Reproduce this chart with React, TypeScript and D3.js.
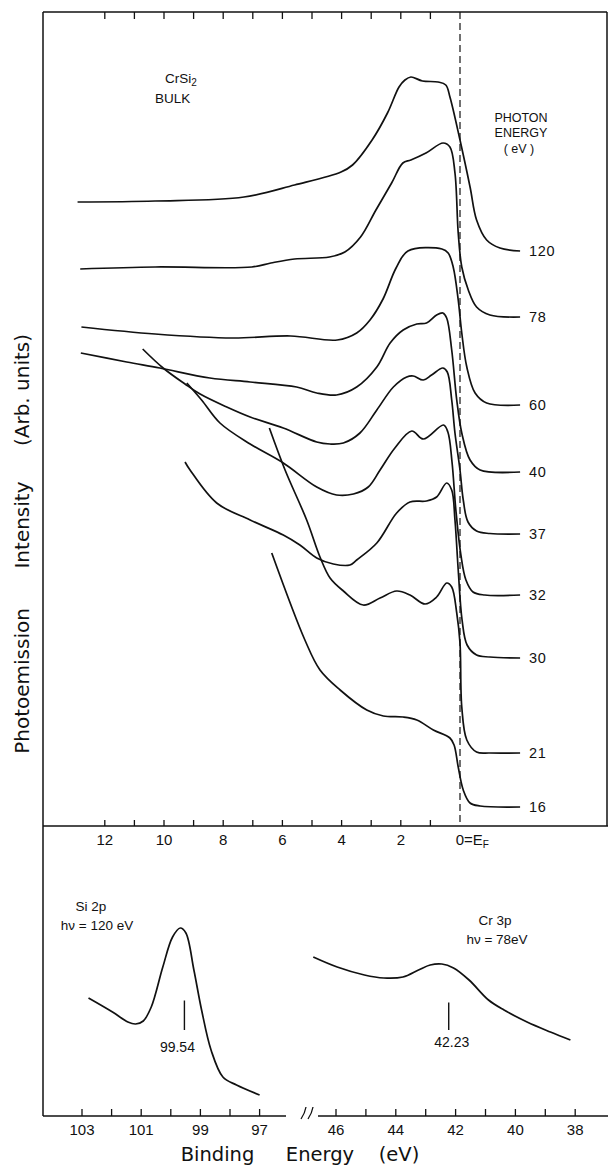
import React from "react";
import * as d3 from "d3";

type Pt = [number, number];

// valence band spectra, [binding energy (eV), intensity (arb.)]
const photonLabels = ["120", "78", "60", "40", "37", "32", "30", "21", "16"];

const edc120: Pt[] = [
  [12.92, 62.4], [10.3, 62.5], [7.3, 62.9], [5.59, 64.1], [4.02, 65.4], [3.63, 66.1],
  [2.97, 68.6], [2.45, 71.3], [2.06, 73.9], [1.86, 74.6], [1.66, 74.9], [1.27, 74.5], [0.74, 74.4],
  [0.48, 74.1], [0.34, 72.9], [0.0, 68.6], [-0.34, 63.9], [-0.56, 60.6], [-0.9, 58.6],
  [-1.35, 57.8], [-2.03, 57.5],
];
const edc78: Pt[] = [
  [12.83, 55.7], [10.3, 55.9], [7.03, 55.9], [6.39, 56.3], [5.59, 56.7], [4.41, 56.9],
  [3.89, 57.4], [3.36, 58.9], [2.84, 61.6], [2.31, 64.3], [1.93, 66.3], [1.66, 66.6],
  [1.15, 67.3], [0.57, 68.3], [0.34, 67.9], [0.17, 65.3], [0.06, 59.3], [-0.06, 55.9],
  [-0.28, 53.6], [-0.56, 51.9], [-1.01, 51.1], [-2.03, 50.9],
];
const edc60: Pt[] = [
  [12.79, 49.9], [10.3, 49.2], [7.68, 48.8], [5.72, 49.0], [4.15, 48.6], [3.49, 49.3],
  [3.04, 50.6], [2.6, 52.7], [2.16, 55.8], [1.76, 57.5], [0.61, 57.7], [0.4, 57.3],
  [0.23, 55.9], [0.06, 52.6], [-0.06, 49.3], [-0.23, 45.9], [-0.51, 43.3], [-0.9, 42.3],
  [-2.03, 42.1],
];
const edc40: Pt[] = [
  [12.81, 47.3], [11.26, 46.4], [10.14, 45.8], [8.45, 44.8], [7.09, 44.4], [5.52, 43.9],
  [4.84, 43.3], [4.17, 43.1], [3.49, 43.9], [2.81, 45.9], [2.36, 48.3], [1.92, 49.6],
  [1.46, 50.2], [1.13, 50.3], [0.79, 51.1], [0.58, 51.3], [0.45, 50.8], [0.28, 47.6],
  [0.11, 42.6], [-0.06, 39.3], [-0.34, 36.6], [-0.68, 35.6], [-2.03, 35.4],
];
const edc37: Pt[] = [
  [10.72, 47.7], [10.03, 45.8], [9.29, 44.2], [8.78, 43.2], [7.88, 41.9], [7.09, 40.9],
  [5.97, 39.8], [4.84, 38.4], [4.39, 38.2], [3.94, 38.3], [3.38, 39.3], [2.81, 41.6],
  [2.25, 43.9], [1.8, 44.9], [1.58, 45.0], [1.24, 44.6], [0.96, 45.1], [0.58, 45.8],
  [0.43, 45.4], [0.28, 42.6], [0.17, 39.3], [0.0, 35.6], [-0.11, 32.6], [-0.27, 30.4],
  [-0.56, 29.5], [-1.01, 29.25], [-2.03, 29.2],
];
const edc32: Pt[] = [
  [9.23, 44.3], [8.73, 42.6], [8.11, 40.3], [7.09, 38.2], [5.97, 36.3], [4.84, 33.9],
  [4.17, 33.1], [3.6, 33.2], [3.1, 33.9], [2.7, 35.6], [2.2, 37.8], [1.63, 39.5],
  [1.24, 38.7], [0.56, 40.1], [0.41, 39.4], [0.27, 36.4], [0.14, 31.6], [-0.03, 27.1],
  [-0.2, 24.6], [-0.44, 23.4], [-0.84, 23.1], [-2.03, 23.1],
];
const edc30: Pt[] = [
  [9.29, 36.4], [9.12, 35.6], [8.22, 32.3], [7.09, 30.6], [5.97, 29.1], [5.41, 28.1],
  [4.84, 26.8], [4.28, 26.2], [3.72, 26.1], [3.49, 26.6], [2.81, 28.3], [2.14, 31.3],
  [1.69, 32.4], [1.13, 32.5], [0.79, 32.9], [0.45, 34.3], [0.28, 33.6], [0.17, 30.6],
  [0.06, 25.6], [-0.07, 20.6], [-0.24, 18.1], [-0.56, 17.1], [-1.01, 16.9], [-2.03, 16.8],
];
const edc21: Pt[] = [
  [6.44, 39.8], [5.91, 35.6], [5.18, 30.6], [4.73, 26.9], [4.39, 24.8], [3.94, 23.5],
  [3.27, 22.1], [2.7, 22.8], [2.14, 23.5], [1.69, 23.1], [1.18, 22.2], [0.79, 22.9],
  [0.45, 24.3], [0.28, 23.9], [0.11, 21.3], [0.0, 18.3], [-0.06, 11.9], [-0.23, 8.6],
  [-0.56, 7.4], [-1.01, 7.3], [-2.03, 7.3],
];
const edc16: Pt[] = [
  [6.36, 27.3], [5.24, 18.6], [4.73, 15.6], [4.05, 13.6], [3.15, 11.6], [2.59, 11.0],
  [1.92, 10.9], [1.46, 10.6], [0.9, 9.6], [0.34, 8.8], [0.2, 8.1], [0.06, 5.9],
  [-0.11, 3.6], [-0.34, 2.3], [-0.68, 2.0], [-2.03, 1.9],
];
const edcCurves = [edc120, edc78, edc60, edc40, edc37, edc32, edc30, edc21, edc16];

// core levels
const si2p: Pt[] = [
  [102.78, 11.8], [101.97, 10.4], [101.45, 9.4], [101.19, 9.2], [100.93, 9.5], [100.66, 10.9],
  [100.27, 14.9], [99.94, 17.9], [99.68, 18.8], [99.49, 18.3], [99.22, 14.6], [98.96, 10.6],
  [98.64, 6.6], [98.24, 3.9], [97.78, 3.1], [97.0, 2.1],
];
const cr3p: Pt[] = [
  [46.76, 15.9], [45.96, 14.9], [45.05, 14.1], [44.4, 13.8], [43.76, 13.9], [43.24, 14.6],
  [42.85, 15.1], [42.46, 15.2], [42.07, 14.8], [41.55, 13.6], [40.9, 11.6], [40.38, 10.6],
  [39.61, 9.4], [38.83, 8.4], [38.16, 7.6],
];
const siPeak = 99.54;
const crPeak = 42.23;

const vbTicks = [12, 11, 10, 9, 8, 7, 6, 5, 4, 3, 2, 1];
const vbTickLabels = [12, 10, 8, 6, 4, 2];
const siTicks = [103, 102, 101, 100, 99, 98, 97];
const siTickLabels = [103, 101, 99, 97];
const crTicks = [46, 45, 44, 43, 42, 41, 40, 39, 38];
const crTickLabels = [46, 44, 42, 40, 38];

const W = 608;
const H = 1168;
const L = 43;
const R = 607;
const T = 12;
const MID = 826;
const BOT = 1116;

const sans = "'Liberation Sans', Arial, sans-serif";
const wide = "'DejaVu Sans', Verdana, sans-serif";

export default function App() {
  const x = d3.scaleLinear().domain([12, 0]).range([104.8, 460]);
  const y = d3.scaleLinear().domain([0, 81.4]).range([MID, T]);
  const xSi = d3.scaleLinear().domain([103, 97]).range([82, 259.6]);
  const xCr = d3.scaleLinear().domain([46, 38]).range([336, 575.2]);
  const yB = d3.scaleLinear().domain([0, 29]).range([BOT, MID]);

  const smooth = d3.curveCatmullRom.alpha(0.5);
  const vbLine = d3.line<Pt>().x((d) => x(d[0])).y((d) => y(d[1])).curve(smooth);
  const siLine = d3.line<Pt>().x((d) => xSi(d[0])).y((d) => yB(d[1])).curve(smooth);
  const crLine = d3.line<Pt>().x((d) => xCr(d[0])).y((d) => yB(d[1])).curve(smooth);

  const stroke = "#111";

  return (
    <svg width={W} height={H} style={{ position: "absolute", left: 0, top: 0, background: "#fff" }}>
      {/* frame */}
      <g stroke={stroke} strokeWidth={1.5} fill="none">
        <line x1={L} y1={T} x2={L} y2={BOT} />
        <line x1={L} y1={T} x2={R} y2={T} />
        <line x1={R} y1={T} x2={R} y2={MID} />
        <line x1={L} y1={MID} x2={W} y2={MID} />
        <line x1={L} y1={BOT} x2={286} y2={BOT} />
        <line x1={318} y1={BOT} x2={W} y2={BOT} />
        {/* axis break */}
        <path d="M301,1119 Q305,1113 306,1107" strokeWidth={1.3} />
        <path d="M308,1119 Q312,1113 313,1107" strokeWidth={1.3} />
      </g>

      {/* ticks */}
      <g stroke={stroke} strokeWidth={1.3}>
        {vbTicks.map((t) => (
          <g key={t}>
            <line x1={x(t)} x2={x(t)} y1={T} y2={T + 7} />
            <line x1={x(t)} x2={x(t)} y1={MID} y2={MID - 6} />
          </g>
        ))}
        {siTicks.map((t) => (
          <line key={"s" + t} x1={xSi(t)} x2={xSi(t)} y1={BOT} y2={BOT - 7} />
        ))}
        {crTicks.map((t) => (
          <line key={"c" + t} x1={xCr(t)} x2={xCr(t)} y1={BOT} y2={BOT - 7} />
        ))}
      </g>

      {/* Fermi level */}
      <line x1={x(0)} x2={x(0)} y1={T} y2={MID} stroke={stroke} strokeWidth={1.2} strokeDasharray="7 4" />

      {/* spectra */}
      <g fill="none" stroke={stroke} strokeWidth={1.7} strokeLinejoin="round">
        {edcCurves.map((c, i) => (
          <path key={i} d={vbLine(c) || ""} />
        ))}
        <path d={siLine(si2p) || ""} />
        <path d={crLine(cr3p) || ""} />
      </g>

      {/* peak markers */}
      <g stroke={stroke} strokeWidth={1.4}>
        <line x1={xSi(siPeak)} x2={xSi(siPeak)} y1={1000.5} y2={1030} />
        <line x1={xCr(crPeak)} x2={xCr(crPeak)} y1={1002.5} y2={1030} />
      </g>

      <g fontFamily={sans} fill={stroke}>
        {/* photon energy labels */}
        {edcCurves.map((c, i) => {
          const last = c[c.length - 1];
          return (
            <text key={i} x={x(last[0]) + 9} y={y(last[1])} dy="0.35em" fontSize={14.5} letterSpacing={0.6}>
              {photonLabels[i]}
            </text>
          );
        })}

        {/* tick labels */}
        {vbTickLabels.map((t) => (
          <text key={t} x={x(t)} y={845} fontSize={15} textAnchor="middle">
            {t}
          </text>
        ))}
        <text x={x(0) - 4.3} y={845} fontSize={15}>
          0=E<tspan fontSize={10} dy={3}>F</tspan>
        </text>
        {siTickLabels.map((t) => (
          <text key={"s" + t} x={xSi(t)} y={1135} fontSize={15} textAnchor="middle">
            {t}
          </text>
        ))}
        {crTickLabels.map((t) => (
          <text key={"c" + t} x={xCr(t)} y={1135} fontSize={15} textAnchor="middle">
            {t}
          </text>
        ))}

        {/* annotations */}
        <text x={165} y={83} fontSize={13.5}>
          CrSi<tspan fontSize={10} dy={3}>2</tspan>
        </text>
        <text x={155} y={103} fontSize={13.5}>BULK</text>
        <text x={521} y={121.5} fontSize={12.5} textAnchor="middle">PHOTON</text>
        <text x={521} y={136.5} fontSize={12.5} textAnchor="middle">ENERGY</text>
        <text x={519} y={152.5} fontSize={12.5} textAnchor="middle">( eV )</text>

        <text x={91} y={911} fontSize={13.5} textAnchor="middle">Si 2p</text>
        <text x={97} y={930} fontSize={13.5} textAnchor="middle">hν = 120 eV</text>
        <text x={495} y={925} fontSize={13.5} textAnchor="middle">Cr 3p</text>
        <text x={497} y={943.5} fontSize={13.5} textAnchor="middle">hν = 78eV</text>
        <text x={xSi(siPeak) - 7} y={1051.5} fontSize={14} textAnchor="middle">99.54</text>
        <text x={xCr(crPeak) + 3} y={1046.5} fontSize={14} textAnchor="middle">42.23</text>
      </g>

      {/* axis titles */}
      <g fontFamily={wide} fill={stroke} fontSize={19.5}>
        <text x={217.5} y={1161} textAnchor="middle">Binding</text>
        <text x={320} y={1161} textAnchor="middle">Energy</text>
        <text x={399} y={1161} textAnchor="middle">(eV)</text>
        <text transform="translate(29,681) rotate(-90)" textAnchor="middle" fontSize={20}>Photoemission</text>
        <text transform="translate(29,525) rotate(-90)" textAnchor="middle" fontSize={20}>Intensity</text>
        <text transform="translate(29,390) rotate(-90)" textAnchor="middle" fontSize={20}>(Arb. units)</text>
      </g>
    </svg>
  );
}
